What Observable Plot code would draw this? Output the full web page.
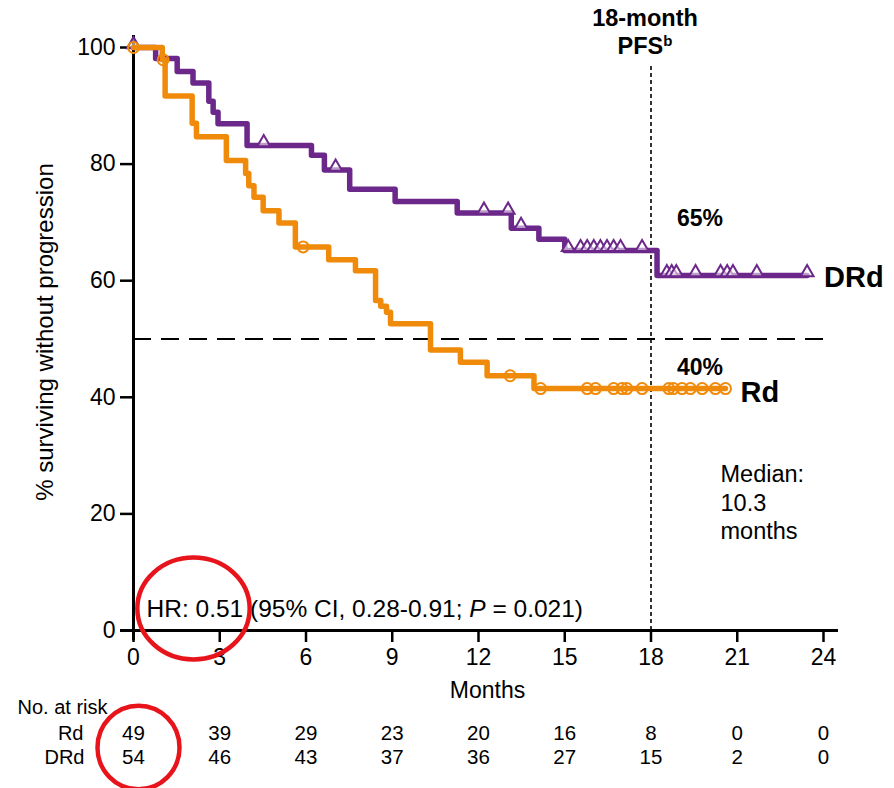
<!DOCTYPE html>
<html>
<head>
<meta charset="utf-8">
<script src="https://cdn.jsdelivr.net/npm/d3@7"></script>
<script src="https://cdn.jsdelivr.net/npm/@observablehq/plot@0.6"></script>
<style>
  html, body { margin: 0; padding: 0; background: white; }
</style>
</head>
<body>
<div id="chart"></div>
<script>
// ---- data ----
const xTicks = [0, 3, 6, 9, 12, 15, 18, 21, 24];
const yTicks = [0, 20, 40, 60, 80, 100];

// DRd Kaplan-Meier steps (months, % progression-free)
const drdTimes = [0, 0.77, 1.52, 2.07, 2.62, 2.77, 2.94, 3.95, 6.19, 6.64, 7.52, 9.1, 11.26, 13.14, 14.1, 15.0, 18.21, 23.43];
const drdSurv  = [100, 98.1, 95.9, 93.9, 90.8, 88.9, 86.9, 83.2, 81.5, 79.0, 75.7, 73.6, 71.6, 69.0, 67.1, 65.2, 60.9, 60.9];
const drdCensor = [0, 4.53, 7.03, 12.19, 13.03, 13.48, 15.12, 15.55, 15.78, 16.01, 16.24, 16.47, 16.70, 16.94, 17.69,
                   18.55, 18.72, 18.88, 19.55, 20.42, 20.65, 20.85, 21.68, 23.43];

// Rd Kaplan-Meier steps
const rdTimes = [0, 1.0, 1.1, 2.04, 2.19, 3.23, 3.9, 4.01, 4.19, 4.51, 5.06, 5.63, 6.79, 7.72, 8.42, 8.6, 8.8, 8.94, 10.33, 11.37, 12.3, 13.93, 20.59];
const rdSurv  = [100, 97.9, 91.7, 87.0, 84.7, 80.6, 78.4, 76.3, 74.3, 72.0, 69.9, 65.8, 63.6, 61.7, 56.6, 55.6, 54.6, 52.6, 48.1, 46.0, 43.7, 41.5, 41.5];
const rdCensor = [0, 1.03, 5.9, 13.1, 14.16, 15.78, 16.07, 16.7, 16.99, 17.16, 17.69, 18.62, 18.78, 19.08, 19.37, 19.78, 20.24, 20.59];

// Number at risk
const riskTimes = [0, 3, 6, 9, 12, 15, 18, 21, 24];
const rdRisk  = [49, 39, 29, 23, 20, 16, 8, 0, 0];
const drdRisk = [54, 46, 43, 37, 36, 27, 15, 2, 0];

const pfsDRd = [{t: 18, s: 65.2, label: "65%"}];
const pfsRd = [{t: 18, s: 41.5, label: "40%"}];
const hrLabel = "HR: 0.51 (95% CI, 0.28-0.91; P = 0.021)";
const medianLabel = "Median:\n10.3\nmonths";

// ---- build tables ----
const purple = "#6B2789";
const orange = "#F08A0A";
const drd = drdTimes.map((t, i) => ({t, s: drdSurv[i]}));
const rd = rdTimes.map((t, i) => ({t, s: rdSurv[i]}));
function survAt(table, t) {
  let s = table[0].s;
  for (const d of table) if (d.t <= t + 1e-9) s = d.s;
  return s;
}
const drdCens = drdCensor.map(t => ({t, s: survAt(drd, t)}));
const rdCens = rdCensor.map(t => ({t, s: survAt(rd, t)}));
const rdRiskRows = riskTimes.map((t, i) => ({t, n: rdRisk[i]}));
const drdRiskRows = riskTimes.map((t, i) => ({t, n: drdRisk[i]}));
const lastDrd = drd[drd.length - 1];
const lastRd = rd[rd.length - 1];

function ellipseSymbol(ax, ay) {
  const k = 0.5523;
  return {
    draw(ctx, size) {
      const r = Math.sqrt(size / Math.PI);
      const rx = r * ax, ry = r * ay;
      ctx.moveTo(rx, 0);
      ctx.bezierCurveTo(rx, ry * k, rx * k, ry, 0, ry);
      ctx.bezierCurveTo(-rx * k, ry, -rx, ry * k, -rx, 0);
      ctx.bezierCurveTo(-rx, -ry * k, -rx * k, -ry, 0, -ry);
      ctx.bezierCurveTo(rx * k, -ry, rx, -ry * k, rx, 0);
      ctx.closePath();
    }
  };
}

const font = "Liberation Sans, Arial, Helvetica, sans-serif";
const M = "middle";

const plot = Plot.plot({
  width: 894,
  height: 788,
  marginLeft: 133,
  marginRight: 71,
  marginTop: 47,
  marginBottom: 158,
  x: {domain: [0, 24]},
  y: {domain: [0, 100]},
  style: {fontFamily: font, fontSize: "23px", color: "black", background: "white", overflow: "visible"},
  marks: [
    Plot.axisX({ticks: xTicks, tickSize: 12, tickPadding: 6, strokeWidth: 2.5, label: null, fontSize: 23}),
    Plot.axisY({ticks: yTicks, tickSize: 13, tickPadding: 5, strokeWidth: 2.5, label: null, fontSize: 23}),
    Plot.ruleY([0], {insetLeft: -13, insetRight: -15, strokeWidth: 3}),
    Plot.ruleX([0], {insetTop: -12, insetBottom: -10, strokeWidth: 3}),
    Plot.ruleY([50], {strokeDasharray: "18,10", strokeWidth: 2.2, insetRight: -9}),
    Plot.ruleX([18], {strokeDasharray: "4,3", strokeWidth: 1.6, insetTop: 19}),

    Plot.line(drd, {x: "t", y: "s", curve: "step-after", stroke: purple, strokeWidth: 5.5}),
    Plot.dot(drdCens, {x: "t", y: "s", symbol: "triangle", r: 4.8, dy: -3, stroke: purple, strokeWidth: 2, fill: "white", fillOpacity: 0.55}),
    Plot.line(rd, {x: "t", y: "s", curve: "step-after", stroke: orange, strokeWidth: 5.5}),
    Plot.dot(rdCens, {x: "t", y: "s", symbol: "circle", r: 5.5, stroke: orange, strokeWidth: 2, fill: "none"}),

    // annotations
    Plot.text(pfsDRd, {x: "t", y: "s", text: "label", dx: 49, dy: -32, fontWeight: "bold", fontSize: 23}),
    Plot.text(pfsRd, {x: "t", y: "s", text: "label", dx: 49, dy: -21, fontWeight: "bold", fontSize: 23}),
    Plot.text([lastDrd], {x: "t", y: "s", text: () => "DRd", textAnchor: "start", dx: 17, dy: 2, fontWeight: "bold", fontSize: 29}),
    Plot.text([lastRd], {x: "t", y: "s", text: () => "Rd", textAnchor: "start", dx: 15, dy: 4, fontWeight: "bold", fontSize: 29}),
    Plot.text(["18-month"], {x: () => 18, frameAnchor: "top", lineAnchor: M, text: d => d, dx: -6, dy: -29, fontWeight: "bold", fontSize: 23.5}),
    Plot.text(["PFS"], {x: () => 18, frameAnchor: "top", lineAnchor: M, text: d => d, dx: -6, dy: -1, fontWeight: "bold", fontSize: 23.5}),
    Plot.text([medianLabel], {frameAnchor: "bottom-right", lineAnchor: M, text: d => d, textAnchor: "start", dx: -103, dy: -129, lineHeight: 1.22, fontSize: 23.5}),
    Plot.text([hrLabel], {frameAnchor: "bottom-left", lineAnchor: M, text: d => d, textAnchor: "start", dx: 13, dy: -21, fontSize: 24.5}),

    // axis titles
    Plot.text(["% surviving without progression"], {frameAnchor: "left", textAnchor: M, lineAnchor: M, text: d => d, rotate: -90, dx: -88, dy: -7, fontSize: 24}),
    Plot.text(["Months"], {frameAnchor: "bottom", lineAnchor: M, text: d => d, dx: 9, dy: 60, fontSize: 23}),

    // risk table
    Plot.text(["No. at risk"], {frameAnchor: "bottom-left", lineAnchor: M, textAnchor: "start", text: d => d, dx: -116, dy: 77, fontSize: 20}),
    Plot.text(["Rd"], {frameAnchor: "bottom-left", lineAnchor: M, textAnchor: "end", text: d => d, dx: -50, dy: 103, fontSize: 20}),
    Plot.text(["DRd"], {frameAnchor: "bottom-left", lineAnchor: M, textAnchor: "end", text: d => d, dx: -49, dy: 127, fontSize: 20}),
    Plot.text(rdRiskRows, {x: "t", frameAnchor: "bottom", lineAnchor: M, text: "n", dy: 103, fontSize: 20.5}),
    Plot.text(drdRiskRows, {x: "t", frameAnchor: "bottom", lineAnchor: M, text: "n", dy: 127, fontSize: 20.5}),

    // red highlight ellipses
    Plot.dot(["hr"], {frameAnchor: "bottom-left", x: null, y: null, symbol: ellipseSymbol(1.08, 0.98), r: 52, dx: 60, dy: -22, stroke: "#E8141B", strokeWidth: 4.5, fill: "none"}),
    Plot.dot(["n"], {frameAnchor: "bottom-left", x: null, y: null, symbol: ellipseSymbol(1.0, 1.02), r: 41, dx: 5, dy: 117, stroke: "#E8141B", strokeWidth: 4.5, fill: "none"})
  ]
});

// rich text touch-ups (italic P, superscript b)
const NS = "http://www.w3.org/2000/svg";
plot.querySelectorAll("text").forEach(t => {
  if (t.textContent === hrLabel) {
    t.textContent = "";
    const parts = [["HR: 0.51 (95% CI, 0.28-0.91; ", null], ["P", "italic"], [" = 0.021)", null]];
    for (const [s, st] of parts) {
      const sp = document.createElementNS(NS, "tspan");
      sp.textContent = s;
      if (st) sp.setAttribute("font-style", st);
      t.appendChild(sp);
    }
  } else if (t.textContent === "PFS") {
    const sp = document.createElementNS(NS, "tspan");
    sp.textContent = "b";
    sp.setAttribute("font-size", "15");
    sp.setAttribute("dy", "-8");
    t.appendChild(sp);
  }
});
document.getElementById("chart").appendChild(plot);
</script>
</body>
</html>
